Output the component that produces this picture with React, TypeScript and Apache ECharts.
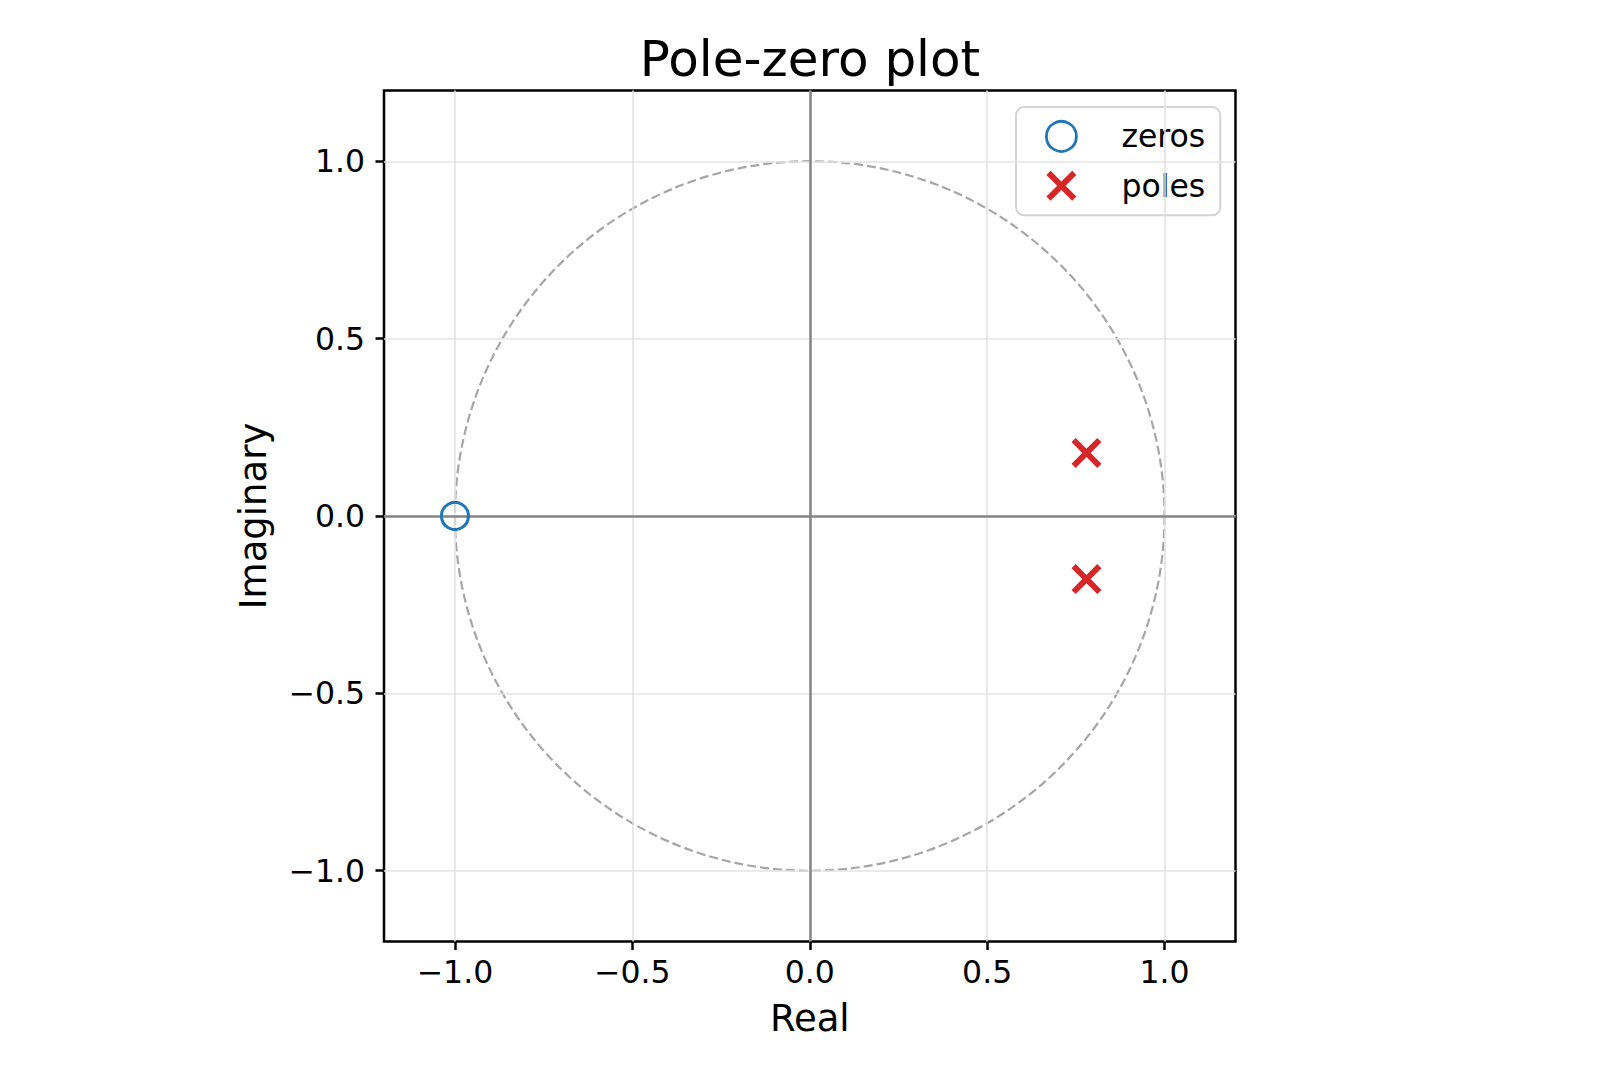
import React, { useEffect, useRef } from "react";
import * as echarts from "echarts";

// ---- data ----
const zeroReal = [-1.0];
const zeroImag = [0.0];
const poleReal = [0.78, 0.78];
const poleImag = [0.178, -0.178];
const tickValues = [-1.0, -0.5, 0.0, 0.5, 1.0];
const axisMin = -1.2;
const axisMax = 1.2;
// unit circle: centre (0,0), radius 1
const unitCircle = [[0, 0, 1]];

const FONT = "DejaVu Sans";
const BLUE = "#1f77b4";
const RED = "#d62728";
const X_PATH =
  "path://M0,4.2 L4.2,0 L15,10.8 L25.8,0 L30,4.2 L19.2,15 L30,25.8 L25.8,30 L15,19.2 L4.2,30 L0,25.8 L10.8,15 Z";

const fmt = (v: number) => (v < 0 ? "\u2212" : "") + Math.abs(v).toFixed(1);

export default function App() {
  const ref = useRef<HTMLDivElement>(null);
  useEffect(() => {
    document.body.style.margin = "0";
    const chart = echarts.init(ref.current!, null, { renderer: "svg" });
    const zeros = zeroReal.map((x, i) => [x, zeroImag[i]]);
    const poles = poleReal.map((x, i) => [x, poleImag[i]]);
    const gridLines = [
      ...tickValues.map((v) => ({ xAxis: v })),
      ...tickValues.map((v) => ({ yAxis: v })),
    ];
    const axisCommon = {
      type: "value",
      min: axisMin,
      max: axisMax,
      nameLocation: "middle",
      nameTextStyle: { fontFamily: FONT, fontSize: 37, color: "#000" },
      axisLine: { show: false, onZero: false },
      splitLine: { show: false },
      axisTick: {
        show: true,
        inside: false,
        length: 8.5,
        customValues: tickValues,
        lineStyle: { color: "#000", width: 2.5 },
      },
    };
    const option: any = {
      animation: false,
      backgroundColor: "#ffffff",
      title: {
        text: "Pole-zero plot",
        left: "center",
        top: 34,
        padding: 0,
        textStyle: { fontFamily: FONT, fontSize: 50, fontWeight: "normal", color: "#000" },
      },
      legend: {
        orient: "vertical",
        left: 1016,
        top: 107,
        padding: [13, 15, 13.5, 29],
        itemWidth: 30,
        itemHeight: 30,
        itemGap: 17,
        backgroundColor: "rgba(255,255,255,0.8)",
        borderColor: "#d4d4d4",
        borderWidth: 2,
        borderRadius: 8,
        textStyle: {
          fontFamily: FONT,
          fontSize: 31.5,
          lineHeight: 30,
          color: "#000",
          padding: [0, 0, 0, 40],
        },
        data: [
          {
            name: "zeros",
            icon: "circle",
            itemStyle: { color: "rgba(0,0,0,0)", borderColor: BLUE, borderWidth: 2.8 },
          },
          { name: "poles", icon: X_PATH, itemStyle: { color: RED, borderWidth: 0 } },
        ],
      },
      grid: {
        left: 384,
        top: 90.5,
        width: 851.5,
        height: 851,
        show: true,
        borderColor: "#000",
        borderWidth: 2.5,
        backgroundColor: "transparent",
      },
      xAxis: {
        ...axisCommon,
        name: "Real",
        nameGap: 58,
        axisLabel: {
          customValues: tickValues,
          formatter: fmt,
          margin: 14,
          fontFamily: FONT,
          fontSize: 31.5,
          color: "#000",
        },
      },
      yAxis: {
        ...axisCommon,
        name: "Imaginary",
        nameGap: 112,
        nameRotate: 90,
        axisLabel: {
          customValues: tickValues,
          formatter: fmt,
          margin: 19,
          fontFamily: FONT,
          fontSize: 31.5,
          color: "#000",
        },
      },
      series: [
        {
          name: "grid",
          type: "scatter",
          data: [],
          silent: true,
          z: 1,
          markLine: {
            silent: true,
            symbol: "none",
            animation: false,
            label: { show: false },
            lineStyle: { color: "#e3e3e3", width: 1.6, type: "solid" },
            data: gridLines,
          },
        },
        {
          name: "axes0",
          type: "scatter",
          data: [],
          silent: true,
          z: 2,
          markLine: {
            silent: true,
            symbol: "none",
            animation: false,
            label: { show: false },
            lineStyle: { color: "#858585", width: 2.5, type: "solid" },
            data: [{ xAxis: 0 }, { yAxis: 0 }],
          },
        },
        {
          name: "unit circle",
          type: "custom",
          silent: true,
          z: 3,
          data: unitCircle,
          renderItem: (params: any, api: any) => {
            const c = api.coord([api.value(0), api.value(1)]);
            const s = api.size([api.value(2), api.value(2)]);
            return {
              type: "circle",
              shape: { cx: c[0], cy: c[1], r: s[0] },
              style: { fill: "none", stroke: "#a6a6a6", lineWidth: 2.2, lineDash: [9, 4] },
            };
          },
        },
        {
          name: "zeros",
          type: "scatter",
          z: 5,
          data: zeros,
          symbol: "circle",
          symbolSize: 27,
          itemStyle: { color: "rgba(0,0,0,0)", borderColor: BLUE, borderWidth: 3, opacity: 1 },
        },
        {
          name: "poles",
          type: "scatter",
          z: 5,
          data: poles,
          symbol: X_PATH,
          symbolSize: 30,
          itemStyle: { color: RED, opacity: 1 },
        },
      ],
    };
    chart.setOption(option);
    return () => chart.dispose();
  }, []);
  return <div ref={ref} style={{ width: 1620, height: 1080 }} />;
}
